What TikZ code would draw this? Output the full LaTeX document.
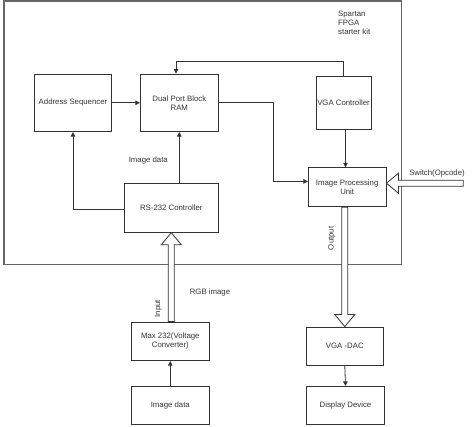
\documentclass[tikz,border=0pt]{standalone}
\usepackage{fontspec}
\setmainfont{Liberation Sans}
\usetikzlibrary{arrows.meta,calc}
\begin{document}
\begin{tikzpicture}[x=1pt,y=-1pt,
  every node/.style={font=\fontsize{7.8}{9}\selectfont, text=black!80, inner sep=0pt},
  blk/.style={draw=black!80, line width=0.8pt, align=center},
  conn/.style={draw=black!80, line width=0.8pt, -{Triangle[length=4.5pt,width=4.5pt]}},
  hollow/.style={draw=black!80, line width=0.8pt, fill=white, line join=miter},
  frame/.style={draw=black!60, line width=1.1pt},
  lbl/.style={}]
\useasboundingbox (0,0) rectangle (474,426);
\draw[frame] (4,1) rectangle (401.7,264.3);
\node[lbl, anchor=west, align=left, font=\fontsize{7.8}{9.2}\selectfont] (kit) at (338,22.7) {Spartan\\FPGA\\starter kit};

\node[blk, minimum width=77.4pt, minimum height=57.7pt] (as) at (73,102.8) {Address Sequencer};
\node[blk, minimum width=78pt, minimum height=57.7pt] (ram) at (179.3,102.8) {Dual Port  Block\\RAM};
\node[blk, minimum width=55pt, minimum height=52.6pt] (vga) at (343.5,103) {VGA Controller};
\node[blk, minimum width=77.7pt, minimum height=39pt] (ipu) at (347.2,187.2) {Image Processing\\Unit};
\node[blk, minimum width=94pt, minimum height=48.6pt] (rs) at (171.3,208) {RS-232 Controller};
\node[blk, minimum width=77.3pt, minimum height=38.7pt] (max) at (170.3,341.3) {Max 232(Voltage\\Converter)};
\node[blk, minimum width=77.3pt, minimum height=38pt] (img) at (170.3,405.3) {Image data};
\node[blk, minimum width=77pt, minimum height=38.7pt] (dac) at (344.8,346.3) {VGA -DAC};
\node[blk, minimum width=77.6pt, minimum height=38pt] (disp) at (345.5,405.3) {Display Device};

% connectors
\draw[conn] (as.east) -- (ram.west);
\coordinate (ramin) at ($(ram.north)+(-3.3,0)$);
\draw[conn] (vga.north) -- ++(0,-15) -| (ramin);
\coordinate (ipuin) at ($(ipu.west)+(0,-5.8)$);
\draw[conn] (ram.east) -- ++(55,0) |- (ipuin);
\draw[conn] ($(vga.south)+(2,0)$) -- ($(vga.south |- ipu.north)+(2,0)$);
\draw[conn] (ram.south |- rs.north) -- (ram.south);
\draw[conn] ($(rs.west)+(0,1.3)$) -| (as.south);
\draw[conn] (img.north) -- (max.south);
\draw[conn] (dac.south) -- (disp.north);

% hollow arrows
\draw[hollow] (rs.south) -- ++(10,12) -- ++(-7,0) -- ($(rs.south |- max.north)+(3,0)$) -- ++(-6,0) -- ($(rs.south)+(-3,12)$) -- ++(-7,0) -- cycle;
\draw[hollow] (dac.north) -- ++(10,-12) -- ++(-7,0) -- ($(dac.north |- ipu.south)+(3,0)$) -- ++(-6,0) -- ($(dac.north)+(-3,-12)$) -- ++(-7,0) -- cycle;
\coordinate (swtip) at ($(ipu.east)+(0,-4)$);
\coordinate (swend) at (463.3,183.2);
\draw[hollow] (swtip) -- ++(12,-10) -- ++(0,7) -- ($(swend)+(0,-3)$) -- ++(0,6) -- ($(swtip)+(12,3)$) -- ++(0,7) -- cycle;

% labels
\node[lbl] (l1) at (148.3,160.3) {Image data};
\node[lbl] (l2) at (210,292.7) {RGB image};
\node[lbl, rotate=90] (l3) at (158.3,308.5) {Input};
\node[lbl, rotate=90] (l4) at (331.7,238.3) {Output};
\node[lbl] (l5) at (437,173.7) {Switch(Opcode)};
\end{tikzpicture}
\end{document}
